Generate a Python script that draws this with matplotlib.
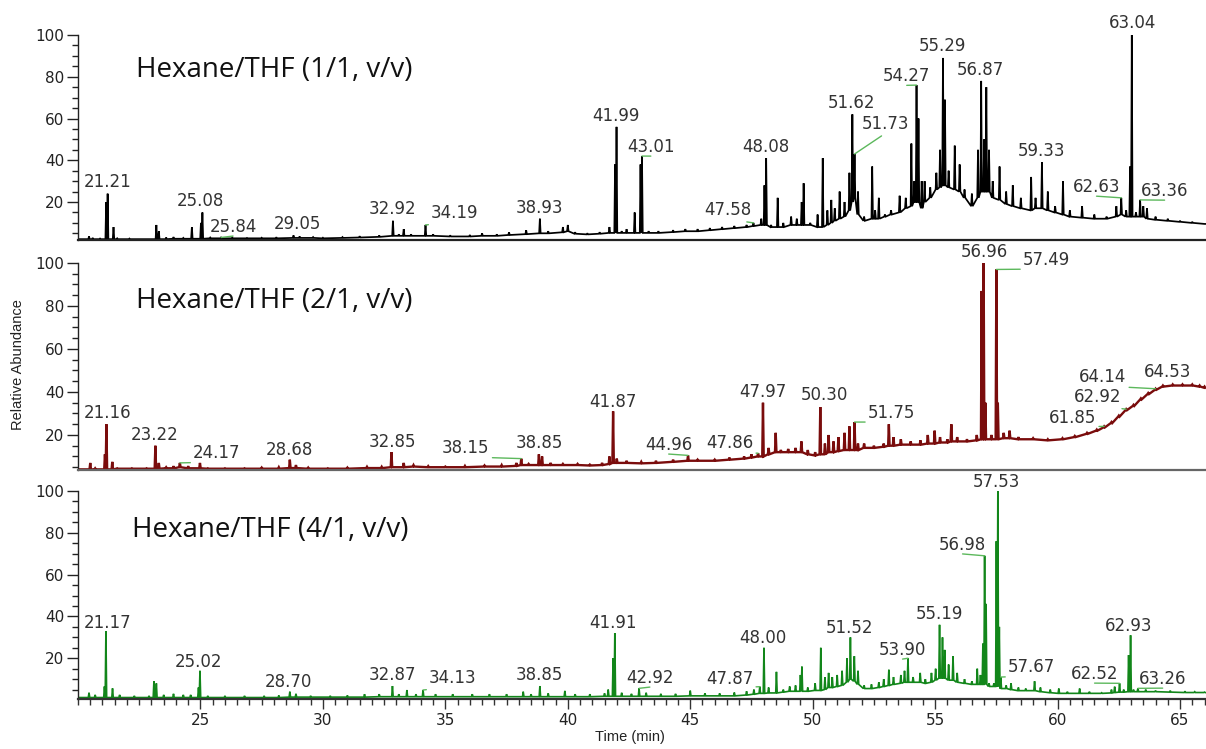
import numpy as np
import matplotlib.pyplot as plt
from matplotlib.ticker import MultipleLocator, FixedLocator

# ---- peaks ----
# retention time (min), apex height and baseline level under the peak (% rel. abundance)
top_t = [20.1, 20.45, 20.6, 20.9, 21.15, 21.21, 21.45, 21.6, 22.1, 23.2, 23.3, 23.6, 23.9, 24.3, 24.65,
         25.02, 25.08, 25.4, 25.84, 26.3, 26.9, 27.5, 28.1, 28.8, 29.05, 29.6, 30.0, 30.8, 31.5, 32.3,
         32.86, 33.1, 33.3, 33.6, 34.19, 34.5, 35.2, 36.0, 36.5, 37.1, 37.6, 38.3, 38.86, 39.2, 39.8,
         40.0, 40.3, 40.8, 41.3, 41.7, 41.93, 41.99, 42.2, 42.4, 42.73, 42.97, 43.03, 43.3, 43.7, 44.3,
         44.8, 45.3, 45.8, 46.3, 46.8, 47.3, 47.58, 47.9, 48.03, 48.1, 48.3, 48.57, 48.8, 49.12, 49.35,
         49.55, 49.63, 49.9, 50.2, 50.41, 50.6, 50.76, 50.9, 51.1, 51.3, 51.5, 51.62, 51.71, 51.85, 52.1,
         52.43, 52.55, 52.7, 52.95, 53.2, 53.55, 53.8, 54.03, 54.15, 54.24, 54.32, 54.45, 54.57, 54.8, 55.05,
         55.2, 55.32, 55.4, 55.55, 55.8, 56.0, 56.2, 56.5, 56.75, 56.88, 57.0, 57.09, 57.2, 57.35, 57.63,
         57.9, 58.17, 58.5, 58.92, 59.1, 59.36, 59.6, 59.9, 60.22, 60.5, 61.0, 61.5, 62.0, 62.4, 62.6,
         62.8, 62.96, 63.03, 63.2, 63.37, 63.5, 63.65, 64.0, 64.5, 65.0, 65.5, 66.0]
top_h = [2.2, 3.5, 2.8, 2.5, 20, 24, 8, 2.6, 2.5, 9, 6, 3, 3.2, 2.8, 8,
         10, 15, 3, 3, 3, 2.8, 2.9, 3.1, 4, 3.5, 3.2, 2.9, 3.2, 3.6, 4,
         11, 4.5, 7, 4.5, 9, 4.5, 4, 4.2, 5, 4.5, 5.5, 6.5, 12, 6, 8,
         9, 5.5, 5, 5.5, 8, 38, 56, 6, 7, 15, 38, 42, 6, 6, 6.5,
         7, 7, 7.5, 8, 8.5, 9, 10, 12, 28, 41, 9, 22, 10, 13, 12,
         20, 29, 10, 14, 41, 16, 21, 17, 25, 20, 34, 62, 43, 25, 13,
         37, 16, 22, 14, 16, 23, 22, 48, 30, 76, 60, 30, 30, 27, 34,
         45, 89, 69, 35, 47, 38, 26, 24, 45, 78, 50, 75, 45, 30, 37,
         25, 28, 22, 32, 22, 39, 25, 18, 30, 16, 18, 14, 13, 18, 22,
         16, 37, 100, 15, 21, 18, 17, 13, 12, 11, 10.5, 9.5]
top_b = [2.2, 2.2, 2.2, 2.2, 2.2, 2.2, 2.2, 2.2, 2.2, 2.2, 2.2, 2.2, 2.4, 2.4, 2.4,
         2.4, 2.4, 2.6, 2.6, 2.6, 2.6, 2.6, 2.6, 2.8, 2.8, 2.8, 2.6, 2.8, 3, 3.3,
         3.8, 3.8, 3.8, 3.8, 3.8, 3.8, 3.5, 3.5, 3.8, 3.8, 4.2, 4.6, 5, 5, 5.5,
         6, 4.8, 4.5, 4.8, 5.2, 5.2, 5.2, 5.2, 5.2, 5.2, 5.2, 5.2, 5.2, 5.2, 5.6,
         6, 6, 6.5, 7, 7.5, 8, 8.5, 9, 9, 9, 8, 8, 8, 9, 9,
         9, 9, 9, 8, 8, 9, 10, 11, 12, 13, 16, 20, 22, 14, 11,
         12, 12, 12, 13, 14, 15, 17, 18, 20, 20, 20, 17, 20, 22, 26,
         27, 28, 28, 27, 26, 25, 22, 18, 22, 25, 25, 25, 25, 22, 21,
         19, 18, 17, 16, 17, 17, 16, 15, 14, 13, 12.5, 12, 12, 13, 14,
         13, 13, 13, 13, 13, 13, 12, 11.5, 11, 10.5, 10, 9.5]
top_labels = ["21.21", "25.08", "25.84", "29.05", "32.92", "34.19", "38.93", "41.99", "43.01", "47.58",
              "48.08", "51.62", "51.73", "54.27", "55.29", "56.87", "59.33", "62.63", "63.04", "63.36"]

mid_t = [20.1, 20.5, 20.7, 21.1, 21.16, 21.4, 21.6, 22.2, 22.8, 23.16, 23.3, 23.6, 23.9, 24.16, 24.5,
         24.98, 25.3, 26.0, 26.8, 27.5, 28.2, 28.65, 28.9, 29.4, 30.2, 31.0, 31.8, 32.4, 32.8, 33.3,
         33.7, 34.3, 35.0, 35.8, 36.6, 37.3, 37.9, 38.1, 38.4, 38.82, 38.95, 39.3, 39.8, 40.4, 40.9,
         41.4, 41.7, 41.85, 42.0, 42.4, 43.0, 43.6, 44.3, 44.91, 45.3, 46.0, 46.6, 47.2, 47.5, 47.77,
         47.97, 48.2, 48.49, 48.7, 49.0, 49.3, 49.54, 49.8, 50.1, 50.31, 50.5, 50.65, 50.85, 51.05, 51.3,
         51.5, 51.71, 51.85, 52.1, 52.5, 52.9, 53.11, 53.3, 53.6, 54.0, 54.4, 54.7, 54.98, 55.2, 55.5,
         55.66, 55.9, 56.3, 56.7, 56.9, 56.98, 57.05, 57.3, 57.5, 57.56, 57.8, 58.04, 58.4, 59.0, 59.6,
         60.2, 60.7, 61.2, 61.6, 61.9, 62.2, 62.5, 62.8, 63.1, 63.4, 63.7, 64.0, 64.3, 64.7, 65.1,
         65.5, 65.8, 66.0]
mid_h = [4, 7, 4.5, 11, 25, 7.5, 4.5, 4.5, 4.5, 15, 7, 5, 5.5, 7, 5.5,
         7, 4.5, 4.5, 4.5, 4.8, 5, 8.5, 6, 4.8, 4.5, 4.8, 5.2, 5.2, 12, 7,
         6, 5.5, 5.3, 5.6, 5.8, 6, 7, 9, 6.5, 11, 10, 7, 6.5, 6.5, 6.2,
         7, 10, 31, 9, 8, 7.5, 8, 8.5, 10.5, 8.5, 8.5, 9.5, 10, 11, 11.5,
         35, 14, 21, 13, 13.5, 14, 17, 13, 12, 33, 16, 20, 17, 19, 21,
         24, 26, 16, 16, 15, 16, 25, 19, 18, 17, 17.5, 20, 22, 19, 18,
         25, 19, 18, 20, 87, 100, 35, 20, 97, 35, 21, 22, 19, 18.5, 18,
         18.5, 19.5, 21, 22.5, 24, 26, 29, 32, 34, 37, 39.5, 41.5, 43, 43.5, 43.5,
         43.5, 43, 42.5]
mid_b = [4, 4, 4, 4, 4, 4, 4.3, 4.3, 4.3, 4.3, 4.3, 4.5, 4.5, 5, 4.5,
         4.5, 4.3, 4.3, 4.3, 4.3, 4.3, 4.6, 4.6, 4.3, 4.3, 4.3, 4.6, 4.6, 5, 5,
         5.3, 5, 5, 5, 5.3, 5.3, 5.6, 6, 6, 6, 6, 6, 6, 6, 5.8,
         6, 6.5, 7, 7, 7, 6.8, 7, 7.5, 8, 8, 8, 8.5, 9, 9.5, 10,
         10, 11, 12, 12, 12, 12, 12, 11, 10.5, 11, 11, 12, 12, 12.5, 13,
         13, 13, 13, 14, 14, 14.5, 15, 15, 15.5, 15.5, 15.5, 16, 16, 16.5, 16.5,
         17, 17, 17, 17.5, 18, 18, 18, 18, 18, 18, 18.5, 18.5, 18, 18, 17.5,
         18, 19, 20.5, 22, 23.5, 25.5, 28.5, 31.5, 33.5, 36.5, 39, 41, 42.5, 43, 43,
         43, 42.5, 42]
mid_labels = ["21.16", "23.22", "24.17", "28.68", "32.85", "38.15", "38.85", "41.87", "44.96", "47.86",
              "47.97", "50.30", "51.75", "56.96", "57.49", "61.85", "62.92", "64.14", "64.53"]

bot_t = [20.1, 20.45, 20.7, 21.08, 21.14, 21.41, 21.7, 22.3, 22.9, 23.1, 23.2, 23.5, 23.9, 24.3, 24.6,
         24.92, 24.98, 25.3, 26.0, 26.8, 27.6, 28.2, 28.65, 28.9, 29.5, 30.3, 31.0, 31.7, 32.3, 32.84,
         33.1, 33.43, 33.8, 34.09, 34.6, 35.3, 36.1, 36.8, 37.5, 38.18, 38.5, 38.86, 39.2, 39.88, 40.3,
         40.9, 41.5, 41.65, 41.85, 41.92, 42.2, 42.6, 42.91, 43.2, 43.8, 44.4, 45.0, 45.6, 46.2, 46.8,
         47.3, 47.6, 47.84, 48.01, 48.2, 48.52, 48.8, 49.06, 49.3, 49.5, 49.56, 49.8, 50.1, 50.33, 50.5,
         50.65, 50.8, 51.0, 51.2, 51.4, 51.54, 51.7, 51.85, 52.1, 52.4, 52.7, 52.9, 53.11, 53.3, 53.6,
         53.75, 53.89, 54.1, 54.39, 54.6, 54.85, 55.02, 55.18, 55.3, 55.39, 55.55, 55.73, 55.9, 56.2, 56.5,
         56.72, 56.85, 56.95, 57.02, 57.08, 57.2, 57.4, 57.5, 57.56, 57.62, 57.68, 57.9, 58.1, 58.4, 58.7,
         59.06, 59.3, 59.7, 60.05, 60.4, 60.9, 61.3, 61.8, 62.2, 62.33, 62.53, 62.7, 62.9, 62.98, 63.1,
         63.28, 63.6, 64.0, 64.6, 65.2, 65.6, 66.0]
bot_h = [1.2, 3.5, 2.5, 6.5, 33, 5.6, 2.5, 2, 2, 9, 8, 2.5, 3, 2.5, 2.5,
         6, 14, 2, 2, 2, 2, 2.2, 4, 3, 2, 2, 2.2, 2.8, 2.8, 6.7,
         2.8, 4.8, 2.8, 4.8, 2.8, 2.8, 2.8, 2.8, 2.8, 4, 2.8, 6.7, 3.2, 4.4, 2.8,
         2.8, 3.2, 5, 20, 32, 3.5, 3, 5.6, 3.5, 3, 3, 4.5, 3.2, 3.2, 3.6,
         4.2, 5, 6.4, 25, 6, 13.5, 5, 6.5, 7, 12, 16, 6, 8, 25, 11,
         13, 11, 12, 14, 20, 30, 21, 14, 7, 7.5, 8.5, 10, 14.5, 11, 12,
         14, 20, 11, 13, 10, 13, 15, 36, 30, 24, 17, 21, 13, 10, 9,
         15, 12, 27, 69, 46, 8, 8, 76, 100, 35, 11, 7, 8, 6, 5.5,
         9, 6, 5, 5.5, 4, 5.5, 4, 3.5, 5, 6.4, 8, 5, 21.5, 31, 5,
         5.6, 5, 4.5, 4.5, 4.2, 4, 3.8]
bot_b = [1.2, 1.2, 1.2, 1.2, 1.2, 1.2, 1.2, 1.2, 1.2, 1.2, 1.2, 1.2, 1.2, 1.2, 1.2,
         1.2, 1.2, 1.2, 1.2, 1.2, 1.2, 1.2, 1.4, 1.4, 1.4, 1.4, 1.4, 1.4, 1.6, 1.6,
         1.6, 1.6, 1.6, 1.6, 1.6, 1.6, 1.6, 1.6, 1.6, 1.6, 1.6, 1.6, 1.6, 1.6, 1.6,
         1.6, 1.8, 1.8, 1.8, 1.8, 1.8, 1.8, 1.8, 1.8, 1.8, 1.8, 2, 2, 2, 2,
         2.4, 2.8, 3.2, 3.2, 3.4, 3.4, 3.8, 4.2, 4.2, 4.2, 4.2, 4.2, 4.6, 4.6, 5,
         6, 6, 6.5, 7, 8.5, 10, 9, 7.5, 5.5, 5.5, 6, 6.5, 7, 7.5, 8,
         8.5, 8.5, 8.5, 8.5, 8, 8.5, 9.5, 10.5, 10.5, 10.5, 9.5, 9.5, 8.5, 8, 7.5,
         7.5, 7.5, 7.5, 7.5, 7.5, 6.5, 6.5, 6.5, 6.5, 6.5, 5.5, 5.5, 5, 4.5, 4.5,
         4.5, 4, 3.5, 3.2, 3.2, 3.2, 3.2, 3.2, 3.4, 3.6, 3.8, 3.8, 4, 4, 4,
         4, 4, 4, 3.8, 3.6, 3.6, 3.6]
bot_labels = ["21.17", "25.02", "28.70", "32.87", "34.13", "38.85", "41.91", "42.92", "47.87", "48.00",
              "51.52", "53.90", "55.19", "56.98", "57.53", "57.67", "62.52", "62.93", "63.26"]

titles = ["Hexane/THF (1/1, v/v)", "Hexane/THF (2/1, v/v)", "Hexane/THF (4/1, v/v)"]

# ---- layout: label centre (time, abundance) and whether a leader line is drawn ----
top_lab_x = [21.22, 24.98, 26.33, 28.98, 32.86, 35.39, 38.86, 41.96, 43.39, 46.53,
             48.08, 51.59, 52.98, 53.84, 55.31, 56.86, 59.35, 61.59, 63.06, 64.37]
top_lab_y = [29.5, 20.4, 8.0, 9.4, 16.6, 14.7, 17.1, 61.1, 46.3, 16.1,
             46.3, 67.3, 57.3, 80.2, 94.6, 83.1, 44.3, 27.1, 105.6, 25.2]
top_lead = [0, 0, 1, 0, 0, 1, 0, 0, 1, 1, 0, 0, 1, 1, 0, 0, 0, 1, 0, 1]

mid_lab_x = [21.22, 23.14, 25.67, 28.65, 32.82, 35.84, 38.82, 41.84, 44.12, 46.61,
             47.96, 50.49, 53.22, 57.02, 59.55, 60.61, 61.63, 61.84, 64.49]
mid_lab_y = [30.2, 20.0, 11.6, 13.0, 16.7, 14.0, 16.3, 35.3, 15.3, 16.3,
             40.0, 38.6, 30.2, 105.1, 101.4, 27.9, 37.7, 47.0, 49.3]
mid_lead = [0, 0, 1, 0, 0, 1, 0, 0, 1, 1, 0, 0, 1, 0, 1, 1, 1, 1, 0]

bot_lab_x = [21.22, 24.94, 28.61, 32.82, 35.31, 38.82, 41.84, 43.35, 46.61, 47.96,
             51.51, 53.67, 55.18, 56.12, 57.51, 58.94, 61.51, 62.90, 64.29]
bot_lab_y = [36.8, 18.2, 8.6, 12.0, 10.5, 12.0, 36.8, 10.5, 10.0, 29.7,
             34.4, 23.9, 41.1, 74.2, 104.3, 15.8, 12.4, 35.4, 10.0]
bot_lead = [0, 0, 0, 0, 1, 0, 0, 1, 1, 0, 0, 1, 0, 1, 0, 1, 1, 0, 1]


def trace(t, h, b, w=0.03):
    # each peak drawn as a narrow spike rising from its own baseline level
    t = np.asarray(t, float)
    mids = (t[1:] + t[:-1]) / 2
    left = np.maximum(t - w, np.r_[t[0] - w, mids])
    right = np.minimum(t + w, np.r_[mids, t[-1] + w])
    x = np.column_stack([left, t, right]).ravel()
    y = np.column_stack([b, h, b]).ravel()
    return x, y


def anchor(t, h, label):
    # tallest peak within 0.045 min of the labelled time, else the nearest one
    t = np.asarray(t)
    h = np.asarray(h)
    v = float(label)
    near = np.abs(t - v) <= 0.045
    if near.any():
        k = np.flatnonzero(near)[np.argmax(h[near])]
    else:
        k = np.argmin(np.abs(t - v))
    return t[k], h[k]


W, H = 1206, 749
fig = plt.figure(figsize=(W / 100, H / 100), dpi=100)

# pixel boxes (left, top, bottom) of the three panels
boxes = [(78, 35, 240), (78, 263, 470), (78, 491, 699)]
ylims = [(1.8, 100), (3.7, 100), (0.5, 100)]
colors = ["#000000", "#7a0c0c", "#12861a"]
widths = [1.25, 1.7, 1.2]
spine_cols = ["#222222", "#666666", "#333333"]
title_xy = [(136, 70), (136, 301), (132, 530)]
lab_font = dict(fontsize=12, color="#333333", family="DejaVu Sans")

panels = [
    (top_t, top_h, top_b, top_labels, top_lab_x, top_lab_y, top_lead),
    (mid_t, mid_h, mid_b, mid_labels, mid_lab_x, mid_lab_y, mid_lead),
    (bot_t, bot_h, bot_b, bot_labels, bot_lab_x, bot_lab_y, bot_lead),
]

for i, (t, h, b, labs, lx, ly, lead) in enumerate(panels):
    l, top, bottom = boxes[i]
    ax = fig.add_axes([l / W, 1 - bottom / H, 1 - l / W, (bottom - top) / H])
    x, y = trace(t, h, b)
    ax.plot(x, y, color=colors[i], lw=widths[i], solid_joinstyle="miter")
    ax.set_xlim(20, 66.06)
    ax.set_ylim(*ylims[i])

    for s, tx, ty, ld in zip(labs, lx, ly, lead):
        if ld:
            ax.annotate(s, xy=anchor(t, h, s), xytext=(tx, ty), ha="center", va="center",
                        annotation_clip=False, **lab_font,
                        arrowprops=dict(arrowstyle="-", color="#5cb85c", lw=1.0,
                                        shrinkA=0, shrinkB=0, relpos=(0.5, 0.0)))
        else:
            ax.text(tx, ty, s, ha="center", va="center", clip_on=False, **lab_font)

    for side in ["top", "right"]:
        ax.spines[side].set_visible(False)
    ax.spines["left"].set_color("#222222")
    ax.spines["left"].set_linewidth(1.0)
    ax.spines["bottom"].set_color(spine_cols[i])
    ax.spines["bottom"].set_linewidth(1.6)

    ax.yaxis.set_major_locator(FixedLocator([20, 40, 60, 80, 100]))
    ax.yaxis.set_minor_locator(MultipleLocator(5))
    ax.tick_params(axis="y", which="major", length=8, width=1, pad=2, labelsize=11,
                   labelcolor="#222222", color="#222222")
    ax.tick_params(axis="y", which="minor", length=4.5, width=1, color="#222222")

    if i < 2:
        ax.tick_params(axis="x", which="both", bottom=False, labelbottom=False)
    else:
        ax.xaxis.set_major_locator(FixedLocator([25, 30, 35, 40, 45, 50, 55, 60, 65]))
        ax.xaxis.set_minor_locator(MultipleLocator(0.5))
        ax.tick_params(axis="x", which="major", length=7, width=1, pad=3, labelsize=11,
                       labelcolor="#222222", color="#333333")
        ax.tick_params(axis="x", which="minor", length=4, width=1, color="#333333")
    ax.patch.set_alpha(0)

    fig.text(title_xy[i][0] / W, 1 - title_xy[i][1] / H, titles[i], ha="left", va="center",
             fontsize=20, family="Open Sans", color="#111111")

fig.text(18 / W, 1 - 365 / H, "Relative Abundance", rotation=90, ha="center", va="center",
         fontsize=10.5, family="Liberation Sans", color="#222222")
fig.text(630 / W, 1 - 737 / H, "Time (min)", ha="center", va="center",
         fontsize=10.5, family="Liberation Sans", color="#222222")

fig.savefig("out.png", dpi=100)
